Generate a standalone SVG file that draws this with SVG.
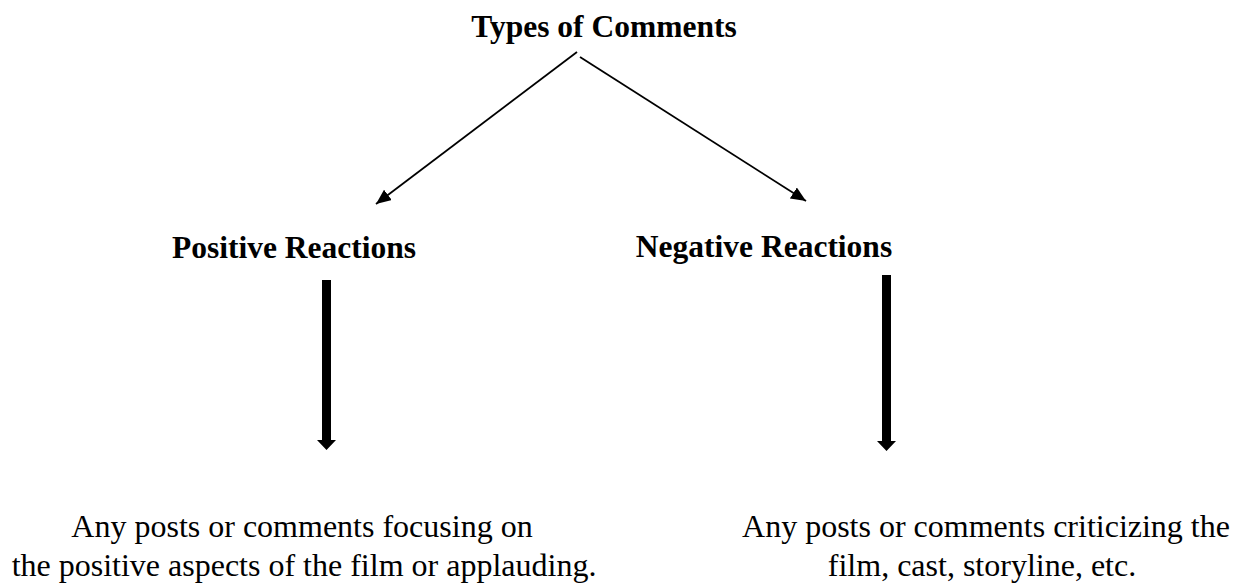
<svg xmlns="http://www.w3.org/2000/svg" width="1237" height="583" viewBox="0 0 1237 583">
  <style>
    .bold { font-family: "Liberation Serif", "Times New Roman", serif; font-weight: bold; font-size: 31.5px; fill: #000; text-anchor: middle; }
    .body { font-family: "Liberation Serif", "Times New Roman", serif; font-size: 32px; fill: #000; text-anchor: middle; }
    .thin { stroke: #000; stroke-width: 1.8; fill: none; }
    .thick { fill: #000; stroke: none; }
  </style>
  <defs>
    <marker id="tri" markerUnits="userSpaceOnUse" markerWidth="16" markerHeight="14" refX="15" refY="6.5" orient="auto">
      <path d="M0,0 L15,6.5 L0,13 Z" fill="#000"/>
    </marker>
  </defs>
  <rect width="1237" height="583" fill="#fff"/>

  <g id="node-types">
    <text class="bold" x="604" y="37">Types of Comments</text>
  </g>
  <g id="node-positive">
    <text class="bold" x="294" y="258">Positive Reactions</text>
  </g>
  <g id="node-negative">
    <text class="bold" x="764" y="257">Negative Reactions</text>
  </g>
  <g id="node-positive-desc">
    <text class="body" x="302" y="537">Any posts or comments focusing on</text>
    <text class="body" x="304" y="576">the positive aspects of the film or applauding.</text>
  </g>
  <g id="node-negative-desc">
    <text class="body" x="986" y="537">Any posts or comments criticizing the</text>
    <text class="body" x="982" y="576">film, cast, storyline, etc.</text>
  </g>

  <g id="connectors">
    <line class="thin" x1="577" y1="52" x2="376" y2="204" marker-end="url(#tri)"/>
    <line class="thin" x1="580" y1="57" x2="806" y2="201" marker-end="url(#tri)"/>
    <path class="thick" d="M322,280 L331,280 L331,440 L336,440 L326.5,450 L317,440 L322,440 Z"/>
    <path class="thick" d="M882,275 L891,275 L891,441 L896,441 L886.5,451 L877,441 L882,441 Z"/>
  </g>
</svg>
